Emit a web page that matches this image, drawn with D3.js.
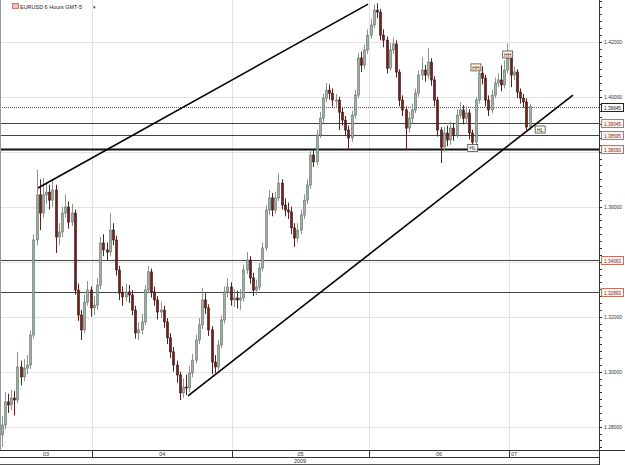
<!DOCTYPE html>
<html>
<head>
<meta charset="utf-8">
<script src="https://cdn.jsdelivr.net/npm/d3@7"></script>
<style>
  body { margin: 0; background: #fff; }
  svg { display: block; font-family: "Liberation Sans", Arial, sans-serif; }
</style>
</head>
<body>
<div id="chart"></div>
<script>
// EURUSD, one candle per half day, opens taken from the previous close
const firstOpen = 1.2770;
const closes = [
  1.2806, 1.2890, 1.2879, 1.2904, 1.2897, 1.3017, 1.2981, 1.3013, 1.3024, 1.3133,
  1.3479, 1.3643, 1.3577, 1.3643, 1.3653, 1.3624, 1.3661, 1.3490, 1.3508, 1.3577,
  1.3599, 1.3544, 1.3577, 1.3297, 1.3206, 1.3152, 1.3253, 1.3297, 1.3232, 1.3242,
  1.3315, 1.3468, 1.3443, 1.3435, 1.3515, 1.3479, 1.3370, 1.3286, 1.3272, 1.3290,
  1.3279, 1.3224, 1.3141, 1.3152, 1.3181, 1.3297, 1.3363, 1.3290, 1.3261, 1.3217,
  1.3224, 1.3181, 1.3123, 1.3072, 1.3024, 1.2988, 1.2923, 1.2944, 1.2941, 1.2995,
  1.3042, 1.3115, 1.3170, 1.3261, 1.3232, 1.3152, 1.3035, 1.3017, 1.3097, 1.3188,
  1.3290, 1.3308, 1.3261, 1.3268, 1.3261, 1.3268, 1.3370, 1.3406, 1.3341, 1.3297,
  1.3308, 1.3377, 1.3450, 1.3588, 1.3632, 1.3588, 1.3632, 1.3686, 1.3606, 1.3588,
  1.3581, 1.3523, 1.3486, 1.3515, 1.3570, 1.3624, 1.3679, 1.3788, 1.3763, 1.3861,
  1.3922, 1.3995, 1.4024, 1.4013, 1.3988, 1.3988, 1.3944, 1.3915, 1.3879, 1.3850,
  1.3933, 1.4006, 1.4141, 1.4115, 1.4170, 1.4224, 1.4261, 1.4315, 1.4308, 1.4224,
  1.4206, 1.4104, 1.4170, 1.4192, 1.4090, 1.3988, 1.3952, 1.3886, 1.3922, 1.3952,
  1.4013, 1.4079, 1.4097, 1.4079, 1.4126, 1.4061, 1.3988, 1.3879, 1.3817, 1.3868,
  1.3843, 1.3886, 1.3861, 1.3933, 1.3952, 1.3922, 1.3941, 1.3868, 1.3835, 1.3988,
  1.4086, 1.4068, 1.3988, 1.3952, 1.4006, 1.4050, 1.4061, 1.4043, 1.4097, 1.4141,
  1.4079, 1.4090, 1.4017, 1.3995, 1.3981, 1.3890, 1.3964
];
const highs = [
  1.2840, 1.2925, 1.2920, 1.2935, 1.2930, 1.3072, 1.3040, 1.3045, 1.3060, 1.3150,
  1.3500, 1.3735, 1.3700, 1.3705, 1.3690, 1.3680, 1.3700, 1.3680, 1.3540, 1.3600,
  1.3645, 1.3620, 1.3610, 1.3590, 1.3320, 1.3225, 1.3280, 1.3330, 1.3310, 1.3275,
  1.3340, 1.3490, 1.3500, 1.3470, 1.3577, 1.3540, 1.3495, 1.3385, 1.3310, 1.3320,
  1.3315, 1.3297, 1.3240, 1.3180, 1.3210, 1.3315, 1.3385, 1.3375, 1.3310, 1.3275,
  1.3255, 1.3240, 1.3195, 1.3140, 1.3090, 1.3040, 1.3000, 1.2975, 1.2990, 1.3020,
  1.3065, 1.3135, 1.3195, 1.3305, 1.3285, 1.3245, 1.3165, 1.3060, 1.3115, 1.3205,
  1.3310, 1.3340, 1.3325, 1.3300, 1.3295, 1.3300, 1.3390, 1.3435, 1.3420, 1.3360,
  1.3335, 1.3395, 1.3470, 1.3605, 1.3661, 1.3650, 1.3655, 1.3722, 1.3700, 1.3630,
  1.3615, 1.3600, 1.3540, 1.3540, 1.3590, 1.3645, 1.3700, 1.3805, 1.3810, 1.3880,
  1.3945, 1.4010, 1.4050, 1.4045, 1.4030, 1.4010, 1.4000, 1.3960, 1.3930, 1.3895,
  1.3950, 1.4025, 1.4160, 1.4165, 1.4190, 1.4245, 1.4285, 1.4335, 1.4340, 1.4320,
  1.4245, 1.4220, 1.4195, 1.4215, 1.4205, 1.4100, 1.4005, 1.3965, 1.3945, 1.3975,
  1.4030, 1.4095, 1.4145, 1.4115, 1.4177, 1.4140, 1.4075, 1.4000, 1.3890, 1.3890,
  1.3895, 1.3910, 1.3905, 1.3955, 1.3980, 1.3970, 1.3965, 1.3955, 1.3880, 1.4000,
  1.4105, 1.4110, 1.4080, 1.4005, 1.4025, 1.4070, 1.4085, 1.4115, 1.4133, 1.4195,
  1.4155, 1.4110, 1.4100, 1.4030, 1.4010, 1.3995, 1.3975
];
const lows = [
  1.2726, 1.2790, 1.2850, 1.2860, 1.2840, 1.2885, 1.2950, 1.2965, 1.2990, 1.3010,
  1.3120, 1.3460, 1.3515, 1.3560, 1.3610, 1.3590, 1.3600, 1.3432, 1.3460, 1.3490,
  1.3560, 1.3520, 1.3530, 1.3280, 1.3185, 1.3115, 1.3140, 1.3240, 1.3200, 1.3205,
  1.3225, 1.3300, 1.3420, 1.3405, 1.3420, 1.3460, 1.3350, 1.3260, 1.3240, 1.3255,
  1.3250, 1.3205, 1.3120, 1.3115, 1.3135, 1.3170, 1.3285, 1.3270, 1.3240, 1.3190,
  1.3195, 1.3160, 1.3100, 1.3050, 1.3000, 1.2960, 1.2897, 1.2905, 1.2915, 1.2925,
  1.2980, 1.3030, 1.3100, 1.3155, 1.3210, 1.3130, 1.2990, 1.2995, 1.3005, 1.3085,
  1.3175, 1.3270, 1.3240, 1.3235, 1.3230, 1.3225, 1.3255, 1.3355, 1.3320, 1.3275,
  1.3280, 1.3295, 1.3365, 1.3440, 1.3570, 1.3565, 1.3575, 1.3620, 1.3590, 1.3565,
  1.3555, 1.3500, 1.3454, 1.3470, 1.3500, 1.3555, 1.3610, 1.3665, 1.3745, 1.3750,
  1.3850, 1.3905, 1.3980, 1.3990, 1.3965, 1.3960, 1.3879, 1.3895, 1.3860, 1.3806,
  1.3835, 1.3920, 1.3995, 1.4090, 1.4100, 1.4155, 1.4210, 1.4250, 1.4285, 1.4205,
  1.4180, 1.4085, 1.4095, 1.4155, 1.4070, 1.3965, 1.3930, 1.3806, 1.3870, 1.3905,
  1.3940, 1.4000, 1.4060, 1.4055, 1.4065, 1.4040, 1.3965, 1.3855, 1.3759, 1.3800,
  1.3820, 1.3825, 1.3840, 1.3850, 1.3920, 1.3900, 1.3900, 1.3845, 1.3812, 1.3825,
  1.3975, 1.4045, 1.3965, 1.3930, 1.3940, 1.3995, 1.4035, 1.4020, 1.4030, 1.4085,
  1.4035, 1.4060, 1.3995, 1.3975, 1.3960, 1.3879, 1.3880
];

// months along the bottom and number of candles in each
const months = ["03", "04", "05", "06", "07"];
const monthBars = [29, 44, 43, 44, 7];
const yearLabel = "2009";

// price axis
const yTicks = [1.28, 1.30, 1.32, 1.34, 1.36, 1.38, 1.40, 1.42];
const levels = [1.39045, 1.38595, 1.38090, 1.34063, 1.32893];
const lastPrice = 1.39645;

// trend lines: [bar position, price] pairs
const trendLines = [
  [[11.95, 1.3668], [115.7, 1.4337]],
  [[59.1, 1.2912], [180.1, 1.4006]]
];
// swing marks: label, bar position, price
const marks = [
  ["HH", 149.6, 1.4105],
  ["HH", 159.6, 1.4152],
  ["HL", 148.6, 1.3812],
  ["HL", 169.8, 1.3879]
];

const W = 625, H = 465;
const plotRight = 599, plotBottom = 450;

const svg = d3.select("#chart").append("svg")
  .attr("width", W).attr("height", H);
svg.append("rect").attr("width", W).attr("height", H).attr("fill", "#fff");

const x = d3.scaleLinear().domain([0, 160]).range([0, 509]);
const y = d3.scaleLinear().domain([1.2715, 1.4352]).range([plotBottom, 0]);

const bounds = Array.from(d3.cumsum(monthBars));
const starts = [0].concat(bounds.slice(0, 4));

// grid
svg.append("g").selectAll("line").data(yTicks).join("line")
  .attr("x1", 0).attr("x2", plotRight)
  .attr("y1", d => Math.round(y(d)) + 0.5).attr("y2", d => Math.round(y(d)) + 0.5)
  .attr("stroke", "#e2e2e2");

svg.append("g").selectAll("line").data(bounds.slice(0, 4)).join("line")
  .attr("x1", d => Math.round(x(d)) + 0.5).attr("x2", d => Math.round(x(d)) + 0.5)
  .attr("y1", 0).attr("y2", plotBottom)
  .attr("stroke", "#e2e2e2");

// horizontal levels
svg.append("g").selectAll("line").data(levels).join("line")
  .attr("x1", 0).attr("x2", plotRight)
  .attr("y1", d => Math.round(y(d)) + 0.5).attr("y2", d => Math.round(y(d)) + 0.5)
  .attr("stroke", d => d === 1.38090 ? "#111" : "#444")
  .attr("stroke-width", d => d === 1.38090 ? 2 : 1);

svg.append("line")
  .attr("x1", 0).attr("x2", plotRight)
  .attr("y1", Math.round(y(lastPrice)) + 0.5).attr("y2", Math.round(y(lastPrice)) + 0.5)
  .attr("stroke", "#b03030").attr("stroke-dasharray", "1,1");

// candles
const bars = closes.map((c, i) => ({
  i, o: i === 0 ? firstOpen : closes[i - 1], c, h: highs[i], l: lows[i]
}));

const cg = svg.append("g");
cg.selectAll("line").data(bars).join("line")
  .attr("x1", d => Math.round(x(d.i + 0.5)) + 0.5)
  .attr("x2", d => Math.round(x(d.i + 0.5)) + 0.5)
  .attr("y1", d => y(d.h)).attr("y2", d => y(d.l))
  .attr("stroke", d => d.c >= d.o ? "#8a968b" : "#5a2020");

cg.selectAll("rect").data(bars).join("rect")
  .attr("x", d => Math.round(x(d.i + 0.5)) - 0.5)
  .attr("width", 2)
  .attr("y", d => y(Math.max(d.o, d.c)))
  .attr("height", d => Math.max(1, Math.abs(y(d.o) - y(d.c))))
  .attr("fill", d => d.c >= d.o ? "#a3b0a4" : "#6e2222")
  .attr("stroke", d => d.c >= d.o ? "#5d7262" : "#3e1010")
  .attr("stroke-width", 0.6);

// trend lines
svg.append("g").selectAll("line").data(trendLines).join("line")
  .attr("x1", d => x(d[0][0])).attr("y1", d => y(d[0][1]))
  .attr("x2", d => x(d[1][0])).attr("y2", d => y(d[1][1]))
  .attr("stroke", "#000").attr("stroke-width", 1.6);

// swing marks
const mg = svg.append("g").selectAll("g").data(marks).join("g")
  .attr("transform", d => `translate(${x(d[1])},${y(d[2])})`);
mg.append("rect").attr("x", -5).attr("y", -4).attr("width", 10).attr("height", 7)
  .attr("fill", "#fffbe8").attr("stroke", "#333").attr("stroke-width", 0.7);
mg.append("text").attr("text-anchor", "middle").attr("y", 1.8)
  .attr("font-size", 5).attr("fill", "#222").text(d => d[0]);

// right axis
svg.append("line").attr("x1", plotRight + 0.5).attr("x2", plotRight + 0.5)
  .attr("y1", 0).attr("y2", H).attr("stroke", "#333");

const minor = d3.range(1.2725, 1.435, 0.0025);
svg.append("g").selectAll("line").data(minor).join("line")
  .attr("x1", plotRight).attr("x2", plotRight + 3)
  .attr("y1", d => Math.round(y(d)) + 0.5).attr("y2", d => Math.round(y(d)) + 0.5)
  .attr("stroke", "#333");

// tick labels hidden where a level box sits on them
const boxed = levels.concat([lastPrice]);
const shownTicks = yTicks.filter(t => !boxed.some(b => Math.abs(y(b) - y(t)) < 9));
svg.append("g").selectAll("text").data(shownTicks).join("text")
  .attr("x", 604).attr("y", d => y(d) + 2.2)
  .attr("font-size", 6).attr("fill", "#333")
  .attr("textLength", 18).attr("lengthAdjust", "spacingAndGlyphs")
  .text(d => d.toFixed(5));

// level labels
const lab = svg.append("g").selectAll("g").data(boxed).join("g")
  .attr("transform", d => `translate(601,${Math.round(y(d)) - 4})`);
lab.append("rect").attr("x", 0.5).attr("y", 0.5).attr("width", 22).attr("height", 8)
  .attr("fill", d => d === lastPrice ? "#fff" : "#fdf3f0")
  .attr("stroke", d => d === lastPrice ? "#222" : "#c07060");
lab.append("text").attr("x", 3).attr("y", 6.6).attr("font-size", 5.8)
  .attr("textLength", 17).attr("lengthAdjust", "spacingAndGlyphs")
  .attr("fill", d => d === lastPrice ? "#111" : "#8a2a20")
  .text(d => d.toFixed(5));

// bottom time axis
svg.append("line").attr("x1", 0).attr("x2", W)
  .attr("y1", plotBottom + 0.5).attr("y2", plotBottom + 0.5).attr("stroke", "#333");
svg.append("line").attr("x1", 0).attr("x2", plotRight)
  .attr("y1", 457.5).attr("y2", 457.5).attr("stroke", "#333");
svg.append("line").attr("x1", 0).attr("x2", plotRight)
  .attr("y1", 464.5).attr("y2", 464.5).attr("stroke", "#555");

svg.append("g").selectAll("line").data(bounds.slice(0, 4)).join("line")
  .attr("x1", d => Math.round(x(d)) + 0.5).attr("x2", d => Math.round(x(d)) + 0.5)
  .attr("y1", plotBottom).attr("y2", 457.5).attr("stroke", "#333");

svg.append("g").selectAll("text").data(months).join("text")
  .attr("x", (d, i) => i < 4 ? (x(starts[i]) + x(bounds[i])) / 2 : x(starts[i]) + 2)
  .attr("y", 456)
  .attr("text-anchor", (d, i) => i < 4 ? "middle" : "start")
  .attr("font-size", 5.5).attr("fill", "#333").text(d => d);

svg.append("text").attr("x", 300).attr("y", 463.2).attr("text-anchor", "middle")
  .attr("font-size", 5.5).attr("fill", "#333").text(yearLabel);

// left edge
svg.append("line").attr("x1", 0.5).attr("x2", 0.5).attr("y1", 0).attr("y2", plotBottom)
  .attr("stroke", "#999");

// title
svg.append("rect").attr("x", 12.5).attr("y", 3.5).attr("width", 6).attr("height", 5)
  .attr("fill", "#e8c0b8").attr("stroke", "#9a4a3a").attr("stroke-width", 0.6);
svg.append("text").attr("x", 20).attr("y", 8.5).attr("font-size", 6).attr("fill", "#222")
  .attr("textLength", 62).attr("lengthAdjust", "spacingAndGlyphs")
  .text("EURUSD 6 Hours GMT-5");
svg.append("text").attr("x", 93).attr("y", 8.5).attr("font-size", 5).attr("fill", "#333")
  .text("▾");
</script>
</body>
</html>
